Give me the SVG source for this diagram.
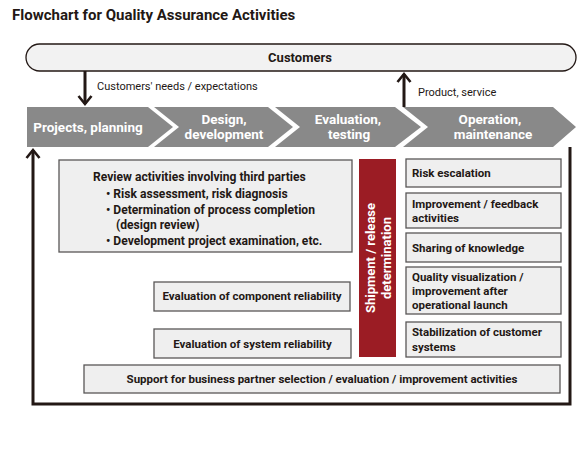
<svg xmlns="http://www.w3.org/2000/svg" width="582" height="460" viewBox="0 0 582 460">
<defs>
<style>
text{font-family:Roboto,"Liberation Sans",sans-serif;fill:#231815}
.t{font-size:15px;font-weight:bold}
.b{font-size:11.5px;font-weight:bold}
.rv{font-size:12.1px;font-weight:bold}
.r{font-size:11px}
.cv{font-size:13.5px;font-weight:bold;fill:#fff;text-anchor:middle}
.cust{font-size:13px;font-weight:bold;text-anchor:middle}
.box{fill:#efefef;stroke:#595757;stroke-width:1.3}
.chev{fill:#898989}
.wire{fill:none;stroke:#231815;stroke-width:3}
.mid{text-anchor:middle}
.red{font-size:13px;font-weight:bold;fill:#fff;text-anchor:middle}
</style>
<marker id="v" markerUnits="userSpaceOnUse" markerWidth="20" markerHeight="20" viewBox="-10 -10 20 20" refX="0" refY="0" orient="auto">
<path d="M-8,-6.5 L0,0 L-8,6.5" fill="none" stroke="#231815" stroke-width="2.6"/>
</marker>
</defs>
<rect width="582" height="460" fill="#fff"/>
<text class="t" x="12" y="20">Flowchart for Quality Assurance Activities</text>

<g id="customers">
<rect x="26" y="44" width="550" height="27" rx="13.5" fill="#f2f2f2" stroke="#231815" stroke-width="1.3"/>
<text class="cust" x="300" y="62">Customers</text>
</g>

<g id="connectors">
<path class="wire" d="M85,71 V104" marker-end="url(#v)"/>
<path class="wire" d="M404,107 V74" marker-end="url(#v)"/>
<path class="wire" d="M570,147 V404 H33 V150" marker-end="url(#v)"/>
<text class="r" x="97" y="90">Customers' needs / expectations</text>
<text class="r" x="418" y="96">Product, service</text>
</g>

<g id="projects">
<path class="chev" d="M27,107 H148 L173,127 L148,147 H27 Z"/>
<text class="cv" x="88" y="132">Projects, planning</text>
</g>
<g id="design">
<path class="chev" d="M154,107 H268 L293,127 L268,147 H154 L179,127 Z"/>
<text class="cv" x="224" y="124">Design,</text>
<text class="cv" x="224" y="139">development</text>
</g>
<g id="evaluation">
<path class="chev" d="M275,107 H395 L421,127 L395,147 H275 L300,127 Z"/>
<text class="cv" x="348" y="124">Evaluation,</text>
<text class="cv" x="349" y="139">testing</text>
</g>
<g id="operation">
<path class="chev" d="M403,107 H553 L576,127 L553,147 H403 L428,127 Z"/>
<text class="cv" x="490" y="124">Operation,</text>
<text class="cv" x="493" y="139">maintenance</text>
</g>

<g id="review">
<rect class="box" x="59" y="160" width="293" height="92"/>
<text class="rv" x="93" y="181">Review activities involving third parties</text>
<text class="rv" x="106" y="198">• Risk assessment, risk diagnosis</text>
<text class="rv" x="106" y="214">• Determination of process completion</text>
<text class="rv" x="116" y="229">(design review)</text>
<text class="rv" x="106" y="245">• Development project examination, etc.</text>
</g>

<g id="component">
<rect class="box" x="154" y="282" width="196" height="29"/>
<text class="b mid" x="252" y="300">Evaluation of component reliability</text>
</g>
<g id="system">
<rect class="box" x="154" y="329" width="197" height="29"/>
<text class="b mid" x="252.5" y="348">Evaluation of system reliability</text>
</g>
<g id="support">
<rect class="box" x="84" y="365" width="476" height="28"/>
<text class="b mid" x="322" y="383">Support for business partner selection / evaluation / improvement activities</text>
</g>

<g id="shipment">
<rect x="359" y="159" width="37" height="198" fill="#9b1c24"/>
<text class="red" transform="translate(375,258) rotate(-90)">Shipment / release</text>
<text class="red" transform="translate(391,258) rotate(-90)">determination</text>
</g>

<g id="risk">
<rect class="box" x="406" y="159" width="155" height="28"/>
<text class="b" x="412" y="177">Risk escalation</text>
</g>
<g id="improvement">
<rect class="box" x="406" y="193" width="155" height="35"/>
<text class="b" x="412" y="208">Improvement / feedback</text>
<text class="b" x="412" y="222">activities</text>
</g>
<g id="sharing">
<rect class="box" x="406" y="233" width="155" height="29"/>
<text class="b" x="412" y="252">Sharing of knowledge</text>
</g>
<g id="quality">
<rect class="box" x="406" y="267" width="155" height="47"/>
<text class="b" x="412" y="281">Quality visualization /</text>
<text class="b" x="412" y="295">improvement after</text>
<text class="b" x="412" y="309">operational launch</text>
</g>
<g id="stabilization">
<rect class="box" x="406" y="322" width="155" height="35"/>
<text class="b" x="412" y="336">Stabilization of customer</text>
<text class="b" x="412" y="351">systems</text>
</g>
</svg>
